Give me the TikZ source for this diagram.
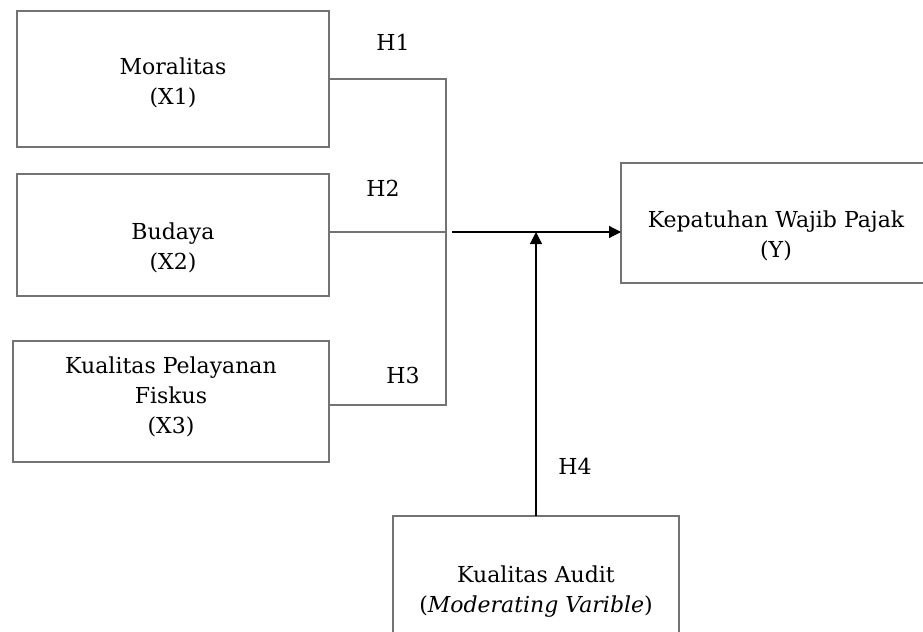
\documentclass[tikz,border=0pt]{standalone}
\usepackage{fontspec}
\setmainfont{DejaVu Serif}
\usetikzlibrary{arrows.meta}

\begin{document}
\begin{tikzpicture}[x=0.75pt,y=-0.75pt,
    varbox/.style={draw=black!55,line width=0.9pt,align=center,inner sep=0pt,outer sep=0pt,
      anchor=north,font=\fontsize{16.5}{22.5}\selectfont},
    link/.style={draw=black!55,line width=0.9pt},
    flow/.style={line width=0.9pt,-{Triangle[length=9pt,width=9pt]}},
    hlabel/.style={font=\fontsize{16.5}{22.5}\selectfont}]
      \useasboundingbox (0,0) rectangle (923,631);
      \clip (0,0) rectangle (923,631);
      \node [varbox,minimum width=234pt,text height=70.5pt,text depth=31.5pt] (mor) at (173,11) {Moralitas\\(X1)};
      \node [varbox,minimum width=234pt,text height=71.25pt,text depth=20.25pt] (bud) at (173,174) {Budaya\\(X2)};
      \node [varbox,minimum width=237pt,text height=69pt,text depth=21.75pt] (fis) at (171,341) {Kualitas Pelayanan\\Fiskus\\(X3)};
      \node [varbox,minimum width=232.5pt,text height=70.5pt,text depth=19.5pt] (kep) at (776,163) {Kepatuhan Wajib Pajak\\(Y)};
      \node [varbox,minimum width=214.5pt,text height=72pt,text depth=36pt] (aud) at (536,516) {Kualitas Audit\\(\textit{Moderating Varible})};
      \coordinate (bend) at (446,232);
      \coordinate (join) at (452,232);
      \draw [link] (mor.east |- 0,79) -| (bend) |- (fis.east |- 0,405);
      \draw [link] (bud.east |- bend) -- (bend);
      \draw [flow] (join) -- (join -| kep.west);
      \draw [flow] (aud.north) -- (aud.north |- join);
      \node [hlabel] (h1) at (393,42) {H1};
      \node [hlabel] (h2) at (383,188) {H2};
      \node [hlabel] (h3) at (403,375) {H3};
      \node [hlabel] (h4) at (575,466) {H4};
    \end{tikzpicture}
\end{document}
